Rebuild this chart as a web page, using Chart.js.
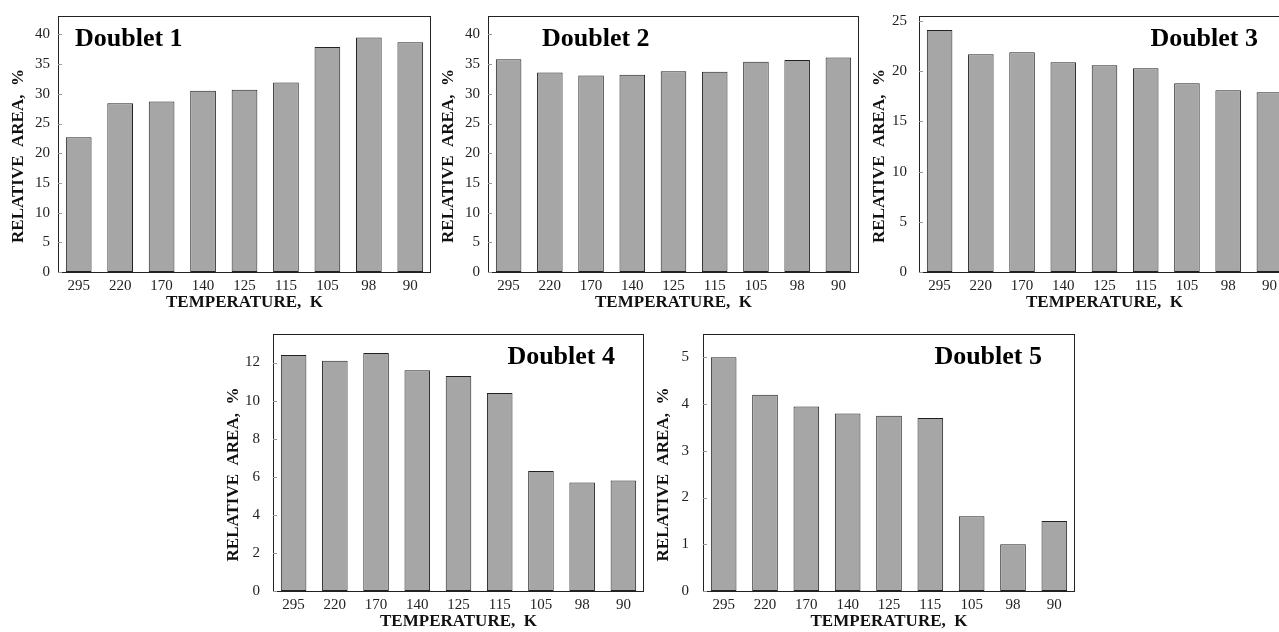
<!DOCTYPE html>
<html>
<head>
<meta charset="utf-8">
<script src="https://cdn.jsdelivr.net/npm/chart.js@4"></script>
<style>
  html, body { margin: 0; padding: 0; background: #fff; overflow: hidden; width: 1279px; height: 632px; }
  .panel { position: absolute; }
</style>
</head>
<body>
<script>
// temperatures along the x axis
const temperatures = ['295', '220', '170', '140', '125', '115', '105', '98', '90'];

// relative area (%) of each doublet
const doublet1 = [22.7, 28.4, 28.7, 30.5, 30.7, 31.9, 37.9, 39.5, 38.7];
const doublet2 = [35.8, 33.6, 33.1, 33.2, 33.8, 33.7, 35.4, 35.7, 36.1];
const doublet3 = [24.1, 21.7, 21.9, 20.9, 20.6, 20.3, 18.8, 18.1, 17.9];
const doublet4 = [12.4, 12.1, 12.5, 11.6, 11.3, 10.4, 6.3, 5.7, 5.8];
const doublet5 = [5.0, 4.2, 3.95, 3.8, 3.75, 3.7, 1.6, 1.0, 1.5];

// y tick labels per panel
const yTicks1 = [0, 5, 10, 15, 20, 25, 30, 35, 40];
const yTicks2 = [0, 5, 10, 15, 20, 25, 30, 35, 40];
const yTicks3 = [0, 5, 10, 15, 20, 25];
const yTicks4 = [0, 2, 4, 6, 8, 10, 12];
const yTicks5 = [0, 1, 2, 3, 4, 5];

const panelNames = ['Doublet 1', 'Doublet 2', 'Doublet 3', 'Doublet 4', 'Doublet 5'];
const panelValues = [doublet1, doublet2, doublet3, doublet4, doublet5];
const panelTicks = [yTicks1, yTicks2, yTicks3, yTicks4, yTicks5];
const panelMax = [43.1, 43.1, 25.5, 13.5, 5.5];

// plot-area rectangles and label placement for each panel
const panelLayout = [
  { l: 58,  t: 16,  r: 431,  b: 272, gap: 8,  name: { side: 'left',  dx: 17 } },
  { l: 488, t: 16,  r: 859,  b: 272, gap: 8,  name: { side: 'left',  dx: 54 } },
  { l: 919, t: 16,  r: 1290, b: 272, gap: 12, name: { side: 'right', dx: 32 } },
  { l: 273, t: 334, r: 644,  b: 591, gap: 13, name: { side: 'right', dx: 29 } },
  { l: 703, t: 334, r: 1075, b: 591, gap: 14, name: { side: 'right', dx: 33 } }
];

const SERIF = '"Liberation Serif", "Times New Roman", serif';
const AXIS_W = 58, PAD_T = 16, PAD_R = 8, AXIS_H = 41, PAD_B = 4;

// frame, inner tick marks, rotated y title and panel name
const framePlugin = {
  id: 'frame',
  afterDraw(chart, args, opts) {
    const { ctx, chartArea: a, scales } = chart;
    ctx.save();
    ctx.strokeStyle = '#222';
    ctx.lineWidth = 1;
    ctx.strokeRect(a.left + 0.5, a.top + 0.5, a.right - a.left - 1, a.bottom - a.top);

    ctx.strokeStyle = '#999';
    scales.y.ticks.forEach(t => {
      const y = Math.round(scales.y.getPixelForValue(t.value)) + 0.5;
      ctx.beginPath();
      ctx.moveTo(a.left, y);
      ctx.lineTo(a.left + 4, y);
      ctx.stroke();
    });

    ctx.fillStyle = '#111';
    ctx.font = 'bold 17px ' + SERIF;
    ctx.textAlign = 'center';
    ctx.textBaseline = 'middle';
    ctx.translate(a.left - 39.5, (a.top + a.bottom) / 2 + 12);
    ctx.rotate(-Math.PI / 2);
    ctx.fillText('RELATIVE  AREA,  %', 0, 0);
    ctx.restore();

    ctx.save();
    ctx.fillStyle = '#000';
    ctx.font = 'bold 26px ' + SERIF;
    ctx.textBaseline = 'alphabetic';
    if (opts.side === 'left') {
      ctx.textAlign = 'left';
      ctx.fillText(opts.text, a.left + opts.dx, a.top + 30);
    } else {
      ctx.textAlign = 'right';
      ctx.fillText(opts.text, a.right - opts.dx, a.top + 30);
    }
    ctx.restore();
  }
};

panelLayout.forEach((p, i) => {
  const div = document.createElement('div');
  div.className = 'panel';
  const w = (p.r - p.l) + AXIS_W + PAD_R;
  const h = (p.b - p.t) + PAD_T + AXIS_H + PAD_B;
  div.style.left = (p.l - AXIS_W) + 'px';
  div.style.top = (p.t - PAD_T) + 'px';
  const canvas = document.createElement('canvas');
  canvas.width = w;
  canvas.height = h;
  div.appendChild(canvas);
  document.body.appendChild(div);

  new Chart(canvas.getContext('2d'), {
    type: 'bar',
    data: {
      labels: temperatures,
      datasets: [{
        data: panelValues[i],
        backgroundColor: '#a6a6a6',
        borderColor: '#222',
        borderWidth: 1,
        borderSkipped: false,
        barPercentage: 0.62,
        categoryPercentage: 1
      }]
    },
    options: {
      responsive: false,
      animation: false,
      devicePixelRatio: 1,
      layout: { padding: { top: PAD_T, right: PAD_R, bottom: PAD_B, left: 0 } },
      plugins: {
        legend: { display: false },
        tooltip: { enabled: false },
        frame: { text: panelNames[i], side: p.name.side, dx: p.name.dx }
      },
      scales: {
        x: {
          grid: { display: false, drawTicks: false },
          border: { display: false },
          ticks: { color: '#222', padding: 5, font: { family: SERIF, size: 15 } },
          title: {
            display: true,
            text: 'TEMPERATURE,  K',
            color: '#111',
            padding: { top: 0, bottom: 0 },
            font: { family: SERIF, size: 17, weight: 'bold' }
          },
          afterFit(s) { s.height = AXIS_H; s.paddingLeft = 0; s.paddingRight = 0; }
        },
        y: {
          min: 0,
          max: panelMax[i],
          grid: { display: false, drawTicks: false },
          border: { display: false },
          ticks: { color: '#222', padding: p.gap, font: { family: SERIF, size: 15 } },
          afterBuildTicks(s) { s.ticks = panelTicks[i].map(v => ({ value: v })); },
          afterFit(s) { s.width = AXIS_W; s.paddingTop = 0; s.paddingBottom = 0; }
        }
      }
    },
    plugins: [framePlugin]
  });
});
</script>
</body>
</html>
